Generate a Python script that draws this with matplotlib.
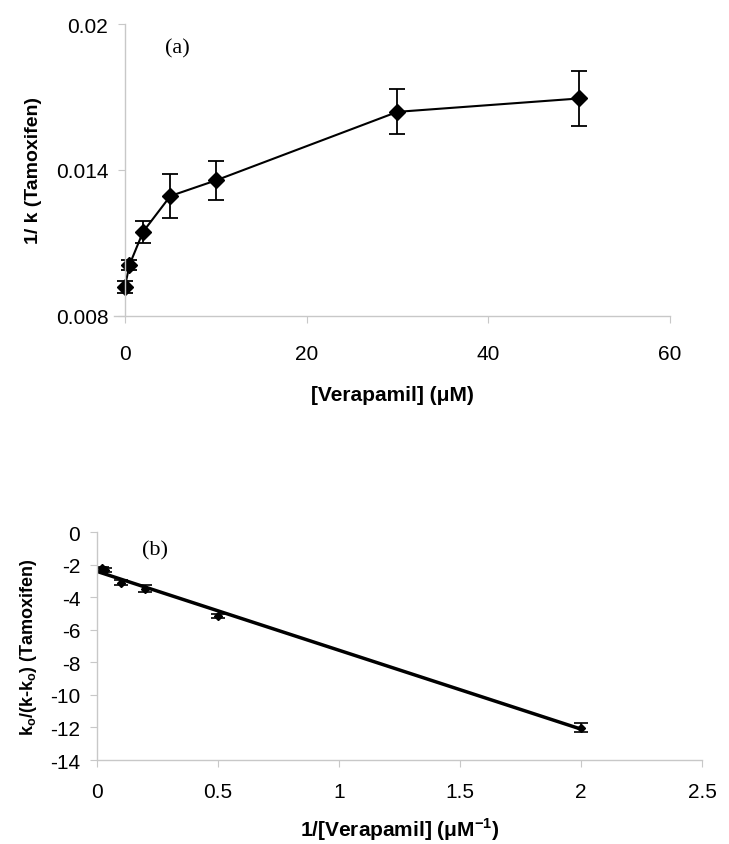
import numpy as np
import matplotlib.pyplot as plt

# (a) 1/k vs verapamil concentration
verapamil = [0, 0.5, 2, 5, 10, 30, 50]
inv_k = [0.0092, 0.0101, 0.01146, 0.01293, 0.01357, 0.01639, 0.01694]
inv_k_err = [0.00024, 0.0002, 0.00045, 0.00092, 0.0008, 0.00092, 0.00113]

# (b) double reciprocal plot
inv_verapamil = [0.02, 0.033, 0.1, 0.2, 0.5, 2.0]
ratio = [-2.23, -2.33, -3.11, -3.48, -5.16, -12.01]
ratio_err = [0.1, 0.1, 0.15, 0.2, 0.15, 0.3]

plt.rcParams['font.family'] = ['Liberation Sans', 'DejaVu Sans']
plt.rcParams['axes.unicode_minus'] = False
plt.rcParams['mathtext.fontset'] = 'custom'
plt.rcParams['mathtext.rm'] = 'Liberation Sans'
plt.rcParams['mathtext.bf'] = 'Liberation Sans:bold'
serif = ['Liberation Serif', 'DejaVu Serif']
grey = '#c8c8c8'

fig = plt.figure(figsize=(7.29, 8.45), dpi=100)
ax1 = fig.add_axes([0.1564, 0.6249, 0.7627, 0.3455])
ax2 = fig.add_axes([0.133, 0.0994, 0.830, 0.2698])

def style(ax, xpad):
    for s in ['top', 'right']:
        ax.spines[s].set_visible(False)
    for s in ['left', 'bottom']:
        ax.spines[s].set_color(grey)
        ax.spines[s].set_linewidth(1.0)
    ax.tick_params(direction='out', length=5, color=grey, labelsize=15)
    ax.tick_params(axis='x', pad=xpad)
    ax.tick_params(axis='y', pad=7)

# ---- (a)
ax1.errorbar(verapamil, inv_k, yerr=inv_k_err, color='black', lw=1.5,
             marker='D', ms=8, capsize=6, elinewidth=1.3, capthick=1.3)
ax1.set_xlim(-1.2, 60)
ax1.set_ylim(0.008, 0.02)
ax1.set_xticks([0, 20, 40, 60])
ax1.set_yticks([0.008, 0.014, 0.02])
ax1.set_yticklabels(['0.008', '0.014', '0.02'])
ax1.set_xticklabels(['0', '20', '40', '60'])
ax1.spines['left'].set_position(('data', 0))
style(ax1, 15)
ax1.set_xlabel('[Verapamil] (μM)', fontweight='bold', fontsize=15, labelpad=16)
ax1.set_ylabel('1/ k (Tamoxifen)', fontweight='bold', fontsize=14, labelpad=10)
ax1.text(5.8, 0.0190, '(a)', family=serif, fontsize=16, ha='center', va='center')

# ---- (b)
slope, intercept = np.polyfit(inv_verapamil, ratio, 1)
fx = np.array([0.005, inv_verapamil[-1]])
ax2.plot(fx, slope * fx + intercept, color='black', lw=2.5)
ax2.errorbar(inv_verapamil, ratio, yerr=ratio_err, color='black', lw=0,
             marker='D', ms=4, capsize=5, elinewidth=1.2, capthick=1.2)
ax2.set_xlim(0, 2.5)
ax2.set_ylim(-14, 0)
ax2.set_xticks([0, 0.5, 1, 1.5, 2, 2.5])
ax2.set_xticklabels(['0', '0.5', '1', '1.5', '2', '2.5'])
ax2.set_yticks(range(-14, 1, 2))
style(ax2, 11)
ax2.set_xlabel('1/[Verapamil] (μM$^{\\mathbf{-1}}$)', fontweight='bold', fontsize=15, labelpad=10)
ax2.set_ylabel('k$_\\mathbf{o}$/(k-k$_\\mathbf{o}$) (Tamoxifen)',
               fontweight='bold', fontsize=13, labelpad=8)
ax2.text(0.24, -1.1, '(b)', family=serif, fontsize=16, ha='center', va='center')

plt.savefig('out.png', dpi=100)
